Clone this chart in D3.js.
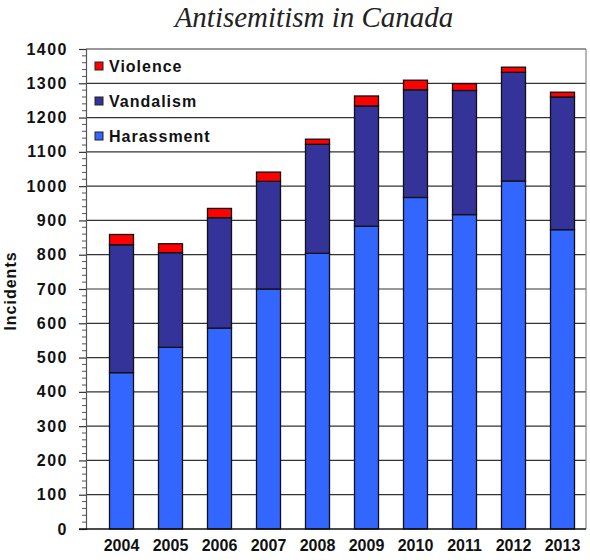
<!DOCTYPE html>
<html><head><meta charset="utf-8">
<script src="https://cdn.jsdelivr.net/npm/d3@7/dist/d3.min.js"></script>
<style>
html,body{margin:0;padding:0;background:#fff;}
svg{display:block;}
</style></head>
<body>
<svg id="chart" width="590" height="560"></svg>
<script>
const years = ["2004","2005","2006","2007","2008","2009","2010","2011","2012","2013"];
const harassment = [456, 530, 586, 700, 804, 883, 967, 917, 1015, 873];
const vandalism  = [373, 276, 322, 314, 318, 351, 314, 362, 317, 387];
const violence   = [30, 26, 27, 27, 15, 29, 28, 20, 15, 14];
const seriesNames = ["Harassment","Vandalism","Violence"];
const seriesColors = ["#3366FF","#333399","#FF0000"];
const yTicks = [0,100,200,300,400,500,600,700,800,900,1000,1100,1200,1300,1400];

const svg = d3.select("#chart");
const frameL = 86, frameR = 586;
const x = d3.scaleBand().domain(years).range([97, 587]).paddingInner(0.51).paddingOuter(0.255);
const y = d3.scaleLinear().domain([0, 1400]).range([529, 49]);

const table = years.map((yr, i) => ({year: yr, Harassment: harassment[i], Vandalism: vandalism[i], Violence: violence[i]}));
const stacked = d3.stack().keys(seriesNames)(table);

// title
svg.append("text").attr("x", 314).attr("y", 27).attr("text-anchor","middle")
  .attr("font-family","'Liberation Serif','DejaVu Serif',serif").attr("font-style","italic")
  .attr("font-size", 29).attr("fill","#222").text("Antisemitism in Canada");

// gridlines
svg.append("g").selectAll("line").data(yTicks.filter(t => t > 0)).join("line")
  .attr("x1", frameL).attr("x2", frameR).attr("y1", d => y(d)).attr("y2", d => y(d))
  .attr("stroke","#333").attr("stroke-width",1.2);

// right frame
svg.append("line").attr("x1", frameR).attr("x2", frameR).attr("y1", y(1400)).attr("y2", y(0))
  .attr("stroke","#888").attr("stroke-width",1.2);

// bars
svg.append("g").selectAll("g").data(stacked).join("g")
  .attr("fill", (d, i) => seriesColors[i])
  .selectAll("rect").data(d => d).join("rect")
  .attr("x", d => x(d.data.year)).attr("width", x.bandwidth())
  .attr("y", d => y(d[1])).attr("height", d => y(d[0]) - y(d[1]))
  .attr("stroke","#111").attr("stroke-width",1.3);

// y axis with minor ticks
const minor = d3.range(0, 1401, 20).filter(v => v % 100 !== 0);
svg.append("g").selectAll("line").data(minor).join("line")
  .attr("x1", frameL - 4).attr("x2", frameL).attr("y1", d => y(d)).attr("y2", d => y(d))
  .attr("stroke","#555").attr("stroke-width",1);
const yAxis = d3.axisLeft(y).tickValues(yTicks).tickSize(7).tickPadding(11).tickFormat(d3.format("d"));
const gy = svg.append("g").attr("transform", `translate(${frameL},0)`).call(yAxis);
gy.select(".domain").attr("stroke","#555").attr("stroke-width",1.2);
gy.selectAll(".tick line").attr("stroke","#333").attr("stroke-width",1.2);
gy.selectAll(".tick text").attr("font-family","'Liberation Sans',Arial,sans-serif")
  .attr("font-weight","bold").attr("font-size",16).attr("fill","#111").attr("letter-spacing","1.5px");

// x axis
const xAxis = d3.axisBottom(x).tickSize(0).tickPadding(11);
const gx = svg.append("g").attr("transform", `translate(0,${y(0)})`).call(xAxis);
gx.select(".domain").remove();
svg.append("line").attr("x1", frameL - 7).attr("x2", frameR).attr("y1", y(0)).attr("y2", y(0))
  .attr("stroke","#111").attr("stroke-width",1.5);
gx.selectAll(".tick text").attr("font-family","'Liberation Sans',Arial,sans-serif")
  .attr("font-weight","bold").attr("font-size",16).attr("fill","#111");

// y title
svg.append("text").attr("transform","translate(16,291) rotate(-90)").attr("text-anchor","middle")
  .attr("font-family","'Liberation Sans',Arial,sans-serif").attr("font-weight","bold")
  .attr("font-size",16).attr("letter-spacing","1px").attr("fill","#111").text("Incidents");

// legend
const legendOrder = [2,1,0];
const lg = svg.append("g").selectAll("g").data(legendOrder).join("g")
  .attr("transform", (d, i) => `translate(95,${72 + i*35})`);
lg.append("rect").attr("x",0).attr("y",-10).attr("width",8).attr("height",8)
  .attr("fill", d => seriesColors[d]).attr("stroke","#222").attr("stroke-width",1);
lg.append("text").attr("x",14).attr("y",0)
  .attr("font-family","'Liberation Sans',Arial,sans-serif").attr("font-weight","bold")
  .attr("font-size",16).attr("letter-spacing","1px").attr("fill","#111").text(d => seriesNames[d]);
</script>
</body></html>
